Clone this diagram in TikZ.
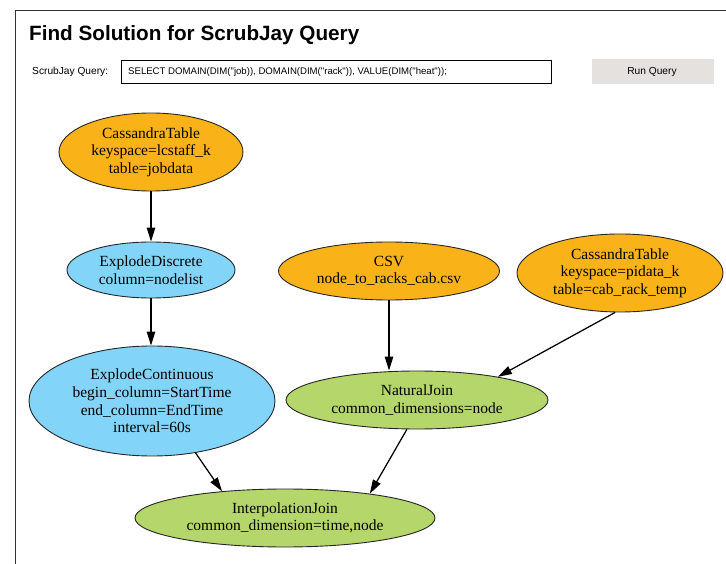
\documentclass[tikz,border=0pt]{standalone}
\usepackage{fontspec}
\setmainfont{Liberation Serif}
\newfontfamily\uisans{Liberation Sans}
\usetikzlibrary{shapes.geometric,arrows.meta}
\definecolor{gvorange}{RGB}{250,178,25}
\definecolor{gvblue}{RGB}{130,212,248}
\definecolor{gvgreen}{RGB}{181,214,106}
\definecolor{btngray}{RGB}{228,225,222}
\tikzset{
  gvnode/.style={ellipse, draw=black!85, line width=0.9pt, inner sep=0pt, align=center,
    font=\fontsize{15.5}{17.6}\selectfont},
  srcnode/.style={gvnode, fill=gvorange},
  opnode/.style={gvnode, fill=gvblue},
  joinnode/.style={gvnode, fill=gvgreen},
  gvedge/.style={draw=black, line width=1.25pt, -{Triangle[length=14pt,width=8.5pt]}},
  uilabel/.style={font=\uisans\fontsize{10.2}{12}\selectfont, inner sep=0pt},
}
\begin{document}
\begin{tikzpicture}[x=1pt,y=-1pt]
\useasboundingbox (0,0) rectangle (726,564);
% page frame
\coordinate (frameTL) at (15,10);
\coordinate (frameTR) at (726,10);
\coordinate (frameBL) at (15,564);
\draw[line width=0.8pt, black!80] (frameTR) -- (frameTL) -- (frameBL);
% title
\node[anchor=base west, inner sep=0pt, font=\uisans\bfseries\fontsize{20.7}{24}\selectfont] (title) at (29,41) {Find Solution for ScrubJay Query};
% query row
\node[uilabel, anchor=west] (qlabel) at (32,72) {ScrubJay Query:};
\node[draw=black, line width=0.9pt, minimum width=430pt, minimum height=23pt, inner sep=0pt] (qbox) at (336,71.5) {};
\node[uilabel, anchor=west, font=\uisans\fontsize{9.6}{12}\selectfont] (qtext) at (128,72) {SELECT DOMAIN(DIM("job)), DOMAIN(DIM("rack")), VALUE(DIM("heat"));};
\node[fill=btngray, minimum width=122pt, minimum height=25pt, inner sep=0pt] (btn) at (653,71.5) {};
\node[uilabel] (btntext) at (652,72) {Run Query};
% graph nodes
\node[srcnode, minimum width=184pt, minimum height=78pt] (ct1) at (151,152) {CassandraTable\\keyspace=lcstaff\_k\\table=jobdata};
\node[opnode, minimum width=168pt, minimum height=56pt] (ed) at (151,270) {ExplodeDiscrete\\column=nodelist};
\node[srcnode, minimum width=221pt, minimum height=58pt] (csv) at (389,271) {CSV\\node\_to\_racks\_cab.csv};
\node[srcnode, minimum width=206pt, minimum height=78pt] (ct2) at (620,273) {CassandraTable\\keyspace=pidata\_k\\table=cab\_rack\_temp};
\node[opnode, minimum width=246pt, minimum height=110pt] (ec) at (152,401) {ExplodeContinuous\\begin\_column=StartTime\\end\_column=EndTime\\interval=60s};
\node[joinnode, minimum width=262pt, minimum height=58pt] (nj) at (417,400) {NaturalJoin\\common\_dimensions=node};
\node[joinnode, minimum width=300pt, minimum height=58pt] (ij) at (285,518) {InterpolationJoin\\common\_dimension=time,node};
% edges
\draw[gvedge] (ct1.south) -- (ed.north);
\draw[gvedge] (ed.south) -- (ed.south |- ec.north);
\draw[gvedge] (csv.south) -- (csv.south |- nj.north);
\draw[gvedge] (ct2.263) -- (nj.16);
\draw[gvedge] (ec.310) -- (ij.157);
\draw[gvedge] (nj.251) -- (ij.16);
\end{tikzpicture}
\end{document}
